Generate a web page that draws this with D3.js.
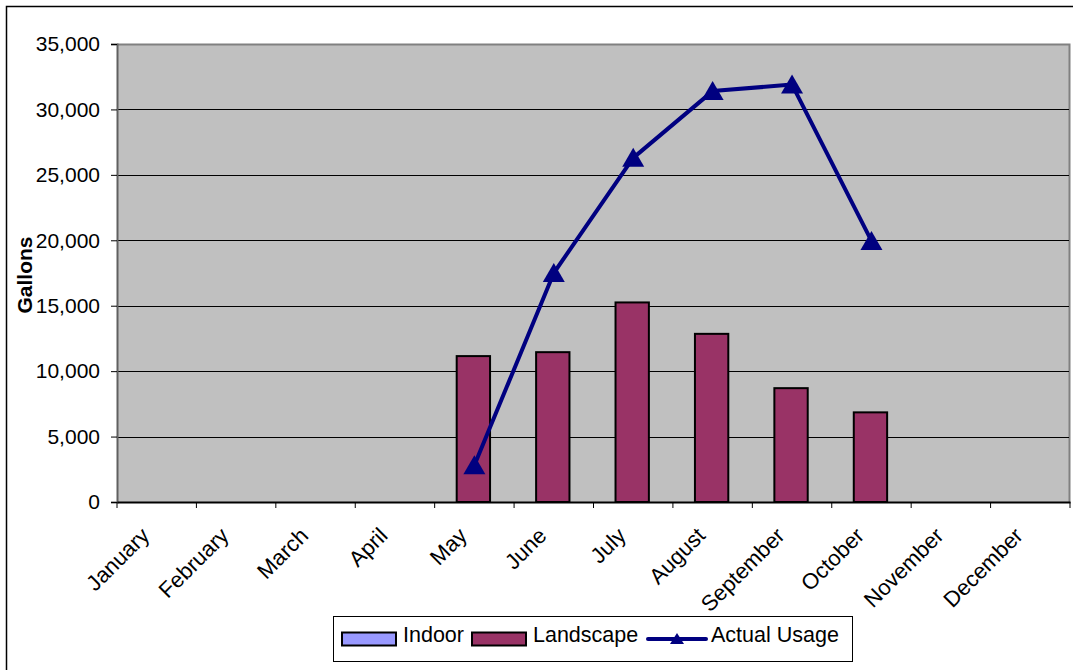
<!DOCTYPE html>
<html>
<head>
<meta charset="utf-8">
<script src="https://cdn.jsdelivr.net/npm/d3@7"></script>
<style>
  html, body { margin: 0; padding: 0; background: #fff; }
  svg { display: block; }
  text { font-family: "Liberation Sans", Arial, sans-serif; }
</style>
</head>
<body>
<svg id="chart" width="1073" height="670"></svg>
<script>
const months = ["January","February","March","April","May","June","July","August","September","October","November","December"];
const indoor = [null,null,null,null,null,null,null,null,null,null,null,null];
const landscape = [null,null,null,null,11150,11450,15250,12850,8700,6850,null,null];
const actualUsage = [null,null,null,null,2800,17500,26300,31400,31900,19950,null,null];
const yTicks = [0,5000,10000,15000,20000,25000,30000,35000];
const seriesNames = ["Indoor","Landscape","Actual Usage"];

const svg = d3.select("#chart");
const W = 1073, H = 670;
const plot = {left: 117, right: 1070, top: 44, bottom: 502};

svg.append("rect").attr("width", W).attr("height", H).attr("fill", "#fff");
// outer chart border (left + top visible)
svg.append("path").attr("d", `M6.5,${H} V6.5 H${W}`).attr("fill","none").attr("stroke","#000").attr("stroke-width",1.5);

const x = d3.scaleBand().domain(months).range([plot.left, plot.right]).padding(0);
const y = d3.scaleLinear().domain([0, 35000]).range([plot.bottom, plot.top]);
const bw = x.bandwidth();

// plot background
svg.append("rect").attr("x", plot.left).attr("y", plot.top)
  .attr("width", plot.right - plot.left).attr("height", plot.bottom - plot.top)
  .attr("fill", "#C0C0C0");
// top and right plot border
svg.append("path").attr("d", `M${plot.left},${plot.top+0.5} H${plot.right-0.5} V${plot.bottom}`)
  .attr("fill","none").attr("stroke","#808080").attr("stroke-width",2);

// gridlines
svg.append("g").selectAll("line").data(yTicks.filter(d => d > 0 && d < 35000)).join("line")
  .attr("x1", plot.left).attr("x2", plot.right - 1)
  .attr("y1", d => Math.round(y(d)) + 0.5).attr("y2", d => Math.round(y(d)) + 0.5)
  .attr("stroke", "#000").attr("stroke-width", 1);

// bars (Indoor + Landscape)
const barW = bw * 0.42;
const barData = [];
months.forEach((m, i) => {
  if (indoor[i] != null) barData.push({m, v: indoor[i], c: "#9999FF"});
  if (landscape[i] != null) barData.push({m, v: landscape[i], c: "#993366"});
});
svg.append("g").selectAll("rect").data(barData).join("rect")
  .attr("x", d => x(d.m) + bw/2 - barW/2 - 1)
  .attr("y", d => y(d.v))
  .attr("width", barW)
  .attr("height", d => y(0) - y(d.v))
  .attr("fill", d => d.c)
  .attr("stroke", "#000").attr("stroke-width", 2);

// y axis
const yAxis = d3.axisLeft(y).tickValues(yTicks).tickFormat(d3.format(",")).tickSize(6).tickPadding(11);
const gy = svg.append("g").attr("transform", `translate(${plot.left},0)`).call(yAxis);
gy.select(".domain").attr("stroke", "#606060").attr("stroke-width", 2);
gy.selectAll(".tick line").attr("stroke", "#000");
gy.selectAll(".tick text").attr("font-size", 21).attr("fill", "#000")
  .attr("font-family", "'Liberation Sans', Arial, sans-serif");

// x axis
const xAxis = d3.axisBottom(x).tickSize(0).tickPadding(0);
const gx = svg.append("g").attr("transform", `translate(0,${plot.bottom})`).call(xAxis);
gx.select(".domain").attr("stroke", "#000").attr("stroke-width", 2);
gx.selectAll(".tick text")
  .attr("font-size", 22).attr("fill", "#000")
  .attr("font-family", "'Liberation Sans', Arial, sans-serif")
  .attr("text-anchor", "end")
  .attr("dy", null).attr("y", null)
  .attr("transform", "translate(-6,35) rotate(-45)");
// boundary tick marks
const bounds = months.map(m => x(m)).concat([plot.right]);
svg.append("g").selectAll("line").data(bounds).join("line")
  .attr("x1", d => d).attr("x2", d => d)
  .attr("y1", plot.bottom).attr("y2", plot.bottom + 6)
  .attr("stroke", "#000").attr("stroke-width", 1);

// line series
const lineData = months.map((m, i) => ({m, v: actualUsage[i]})).filter(d => d.v != null);
const line = d3.line().x(d => x(d.m) + bw/2).y(d => y(d.v));
svg.append("path").datum(lineData).attr("d", line)
  .attr("fill", "none").attr("stroke", "#000080").attr("stroke-width", 4).attr("stroke-linejoin", "round");
const tri = "M0,-10 L11,9 L-11,9 Z";
svg.append("g").selectAll("path").data(lineData).join("path")
  .attr("d", tri)
  .attr("transform", d => `translate(${x(d.m) + bw/2},${y(d.v)})`)
  .attr("fill", "#000080");

// y axis title
svg.append("text").attr("transform", "translate(32,275) rotate(-90)")
  .attr("text-anchor", "middle").attr("font-size", 21).attr("font-weight", "bold")
  .text("Gallons");

// legend
const lg = svg.append("g");
lg.append("rect").attr("x", 333.5).attr("y", 616.5).attr("width", 519).attr("height", 45)
  .attr("fill", "#fff").attr("stroke", "#000").attr("stroke-width", 1);
const legendItems = [
  {name: seriesNames[0], type: "bar", c: "#9999FF", sx: 342, tx: 403},
  {name: seriesNames[1], type: "bar", c: "#993366", sx: 472, tx: 533},
  {name: seriesNames[2], type: "line", c: "#000080", sx: 648, tx: 711}
];
legendItems.forEach(it => {
  if (it.type === "bar") {
    lg.append("rect").attr("x", it.sx).attr("y", 632.5).attr("width", 54).attr("height", 13)
      .attr("fill", it.c).attr("stroke", "#000").attr("stroke-width", 2);
  } else {
    lg.append("line").attr("x1", it.sx).attr("x2", it.sx + 58).attr("y1", 639).attr("y2", 639)
      .attr("stroke", it.c).attr("stroke-width", 4).attr("stroke-linecap", "round");
    lg.append("path").attr("d", "M0,-6 L7,5 L-7,5 Z").attr("transform", `translate(${it.sx + 29},639)`)
      .attr("fill", it.c);
  }
  lg.append("text").attr("x", it.tx).attr("y", 642).attr("font-size", 21.5).text(it.name);
});
</script>
</body>
</html>
